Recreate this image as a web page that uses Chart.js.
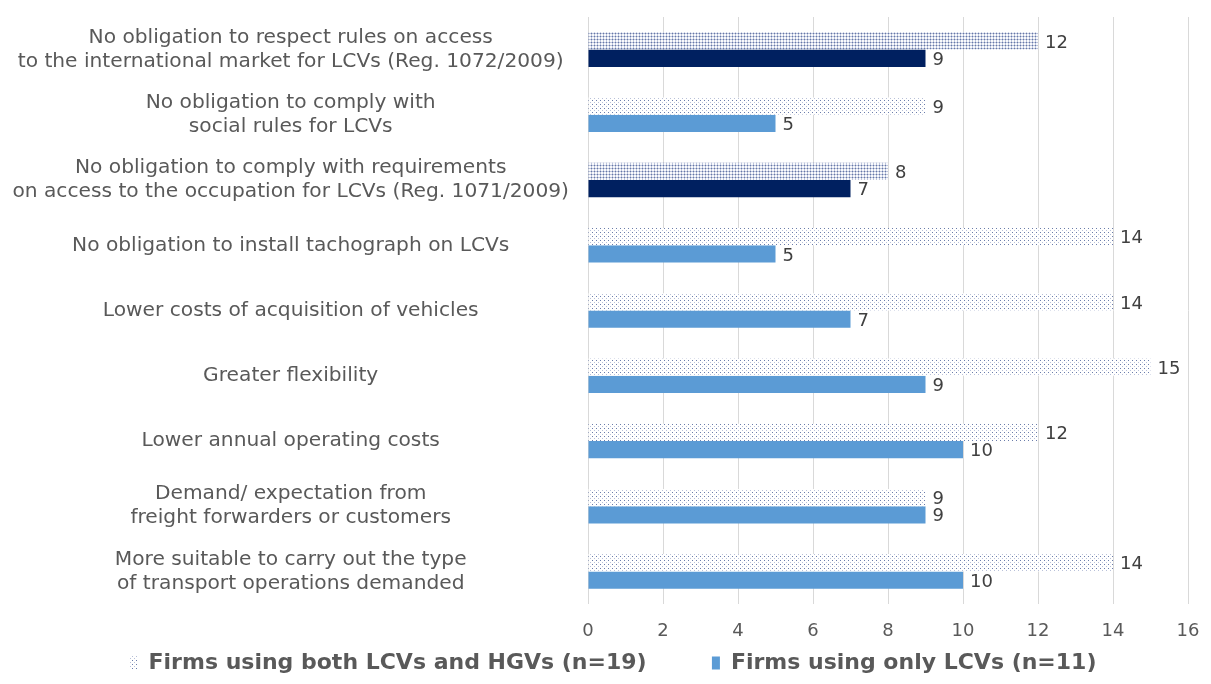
<!DOCTYPE html>
<html>
<head>
<meta charset="utf-8">
<script src="https://cdn.jsdelivr.net/npm/chart.js@4.4.1/dist/chart.umd.min.js"></script>
<style>
  html, body { margin: 0; padding: 0; background: #ffffff; }
  #wrap { width: 1211px; height: 684px; position: relative; }
</style>
</head>
<body>
<div id="wrap"><canvas id="chart" width="1211" height="684"></canvas></div>
<script>
const categories = [
    ['No obligation to respect rules on access', 'to the international market for LCVs (Reg. 1072/2009)'],
    ['No obligation to comply with', 'social rules for LCVs'],
    ['No obligation to comply with requirements', 'on access to the occupation for LCVs (Reg. 1071/2009)'],
    'No obligation to install tachograph on LCVs',
    'Lower costs of acquisition of vehicles',
    'Greater flexibility',
    'Lower annual operating costs',
    ['Demand/ expectation from', 'freight forwarders or customers'],
    ['More suitable to carry out the type', 'of transport operations demanded']
];
const bothValues = [12, 9, 8, 14, 14, 15, 12, 9, 14];
const onlyLcvValues = [9, 5, 7, 5, 7, 9, 10, 9, 10];
const xTicks = [0, 2, 4, 6, 8, 10, 12, 14, 16];

// rows that use the darker colouring in the original
const highlightRows = [0, 2];

function makePattern(dense) {
    const c = document.createElement('canvas');
    const ctx = c.getContext('2d');
    if (dense) {
        c.width = 3; c.height = 3;
        ctx.fillStyle = '#f9fafc';
        ctx.fillRect(0, 0, 3, 3);
        ctx.fillStyle = '#bcc4dc';
        ctx.fillRect(0, 0, 3, 1);
        ctx.fillRect(0, 0, 1, 3);
        ctx.fillStyle = '#6678a6';
        ctx.fillRect(0, 0, 1, 1);
    } else {
        c.width = 4; c.height = 4;
        ctx.fillStyle = '#ffffff';
        ctx.fillRect(0, 0, 4, 4);
        ctx.fillStyle = '#6b7dab';
        ctx.fillRect(0, 0, 1, 1);
        ctx.fillStyle = '#b9c1d9';
        ctx.fillRect(2, 2, 1, 1);
    }
    return document.getElementById('chart').getContext('2d').createPattern(c, 'repeat');
}

const densePattern = makePattern(true);
const sparsePattern = makePattern(false);

const bothColors = bothValues.map((v, i) => highlightRows.includes(i) ? densePattern : sparsePattern);
const onlyColors = onlyLcvValues.map((v, i) => highlightRows.includes(i) ? '#002060' : '#5b9bd5');
const legendSwatches = [sparsePattern, '#5b9bd5'];

// value labels at the end of each bar
const valueLabels = {
    id: 'valueLabels',
    afterDatasetsDraw(chart) {
        const ctx = chart.ctx;
        ctx.save();
        ctx.font = '18px "DejaVu Sans"';
        ctx.fillStyle = '#404040';
        ctx.textAlign = 'left';
        ctx.textBaseline = 'middle';
        chart.data.datasets.forEach((ds, di) => {
            const meta = chart.getDatasetMeta(di);
            meta.data.forEach((bar, i) => {
                ctx.fillText(String(ds.data[i]), bar.x + 7, bar.y + 2);
            });
        });
        ctx.restore();
    }
};

// the legend in the original sits a little right of the canvas centre
const legendShift = {
    id: 'legendShift',
    afterLayout(chart) {
        chart.legend.left += 19;
        chart.legend.right += 19;
    }
};

// eslint-disable-next-line no-undef
new Chart(document.getElementById('chart'), {
    type: 'bar',
    data: {
        labels: categories,
        datasets: [
            {
                label: 'Firms using both LCVs and HGVs (n=19)',
                data: bothValues,
                backgroundColor: bothColors,
                categoryPercentage: 0.53,
                barPercentage: 1.0
            },
            {
                label: 'Firms using only LCVs (n=11)',
                data: onlyLcvValues,
                backgroundColor: onlyColors,
                categoryPercentage: 0.53,
                barPercentage: 1.0
            }
        ]
    },
    options: {
        indexAxis: 'y',
        responsive: false,
        animation: false,
        devicePixelRatio: 1,
        layout: {
            padding: { top: 17, right: 23, left: 0, bottom: 0 }
        },
        scales: {
            x: {
                min: 0,
                max: 16,
                afterBuildTicks(scale) {
                    scale.ticks = xTicks.map(v => ({ value: v }));
                },
                afterFit(scale) {
                    scale.height = 44;
                    scale.paddingLeft = 0;
                    scale.paddingRight = 0;
                },
                grid: {
                    color: '#d9d9d9',
                    drawTicks: false
                },
                border: { display: false },
                ticks: {
                    padding: 17,
                    color: '#595959',
                    font: { family: 'DejaVu Sans', size: 18 }
                }
            },
            y: {
                grid: { display: false, drawTicks: false },
                border: { display: false },
                afterFit(scale) {
                    scale.width = 588;
                    scale.paddingTop = 0;
                    scale.paddingBottom = 0;
                },
                ticks: {
                    padding: 19,
                    crossAlign: 'center',
                    color: '#595959',
                    font: { family: 'DejaVu Sans', size: 20.2, lineHeight: 1.18 }
                }
            }
        },
        plugins: {
            legend: {
                position: 'bottom',
                labels: {
                    boxWidth: 8,
                    boxHeight: 13,
                    padding: 4,
                    color: '#595959',
                    font: { family: 'DejaVu Sans', size: 22, weight: 'bold', lineHeight: 1.0 },
                    generateLabels(chart) {
                        return chart.data.datasets.map((ds, i) => ({
                            // trailing spaces keep the wide gap between the two entries
                            text: i === 0 ? ds.label + '        ' : ds.label,
                            fillStyle: legendSwatches[i],
                            strokeStyle: 'rgba(0,0,0,0)',
                            lineWidth: 0,
                            fontColor: '#595959',
                            datasetIndex: i,
                            hidden: false
                        }));
                    }
                }
            },
            tooltip: { enabled: false }
        }
    },
    plugins: [valueLabels, legendShift]
});
</script>
</body>
</html>
